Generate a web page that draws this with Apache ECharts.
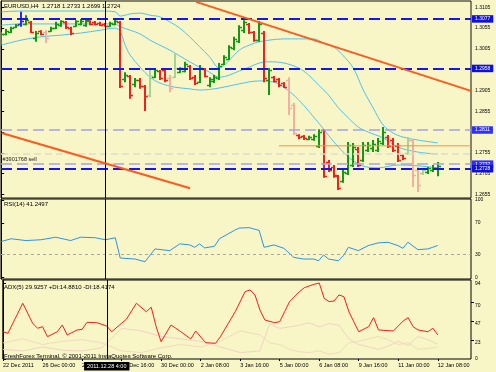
<!DOCTYPE html>
<html><head><meta charset="utf-8">
<script src="https://cdn.jsdelivr.net/npm/echarts@6/dist/echarts.min.js"></script>
<style>html,body{margin:0;padding:0;background:#f8f5c6}#c{width:496px;height:372px}</style>
</head><body><div id="c"></div><script>
// ---- price bars (EURUSD H4), bar index 0 = 22 Dec 2011 16:00 ----
const opens=[1.3019,1.3041,1.3046,1.3058,1.3065,1.3065,1.3070,1.3031,1.3048,1.3046,
1.3048,1.3055,1.3062,1.3070,1.3055,1.3060,1.3065,1.3062,1.3072,1.3070,
1.3067,1.3065,1.3060,1.3065,1.3070,1.2933,1.2940,1.2921,1.2930,1.2916,
1.2894,1.2937,1.2952,1.2954,1.2935,1.2937,1.2949,1.2952,1.2964,1.2937,
1.2925,1.2957,1.2918,1.2928,1.2935,1.2969,1.2981,1.3007,1.3024,1.3050,
1.3065,1.3046,1.3026,1.3043,1.2930,1.2937,1.2933,1.2923,1.2930,1.2870,
1.2798,1.2796,1.2788,1.2788,1.2772,1.2810,1.2733,1.2721,1.2699,1.2687,
1.2707,1.2726,1.2764,1.2738,1.2762,1.2767,1.2762,1.2779,1.2793,1.2786,
1.2772,1.2750,1.2755,1.2786,1.2714,1.2707,1.2709,1.2714,1.2718];
const highs=[1.3046,1.3053,1.3058,1.3065,1.3094,1.3086,1.3072,1.3048,1.3050,1.3050,
1.3058,1.3070,1.3074,1.3072,1.3058,1.3074,1.3077,1.3079,1.3074,1.3072,
1.3070,1.3067,1.3070,1.3077,1.3072,1.2949,1.2942,1.2935,1.2935,1.2918,
1.2957,1.2959,1.2954,1.2959,1.2942,1.2995,1.2961,1.2974,1.2966,1.2942,
1.2966,1.2959,1.2937,1.2942,1.2971,1.2990,1.3014,1.3034,1.3062,1.3074,
1.3067,1.3048,1.3072,1.3048,1.2959,1.2940,1.2935,1.2925,1.2937,1.2875,
1.2800,1.2798,1.2796,1.2800,1.2812,1.2812,1.2738,1.2726,1.2702,1.2714,
1.2781,1.2779,1.2769,1.2781,1.2781,1.2786,1.2791,1.2817,1.2798,1.2791,
1.2779,1.2752,1.2793,1.2788,1.2721,1.2719,1.2721,1.2726,1.2733];
const lows=[1.3014,1.3038,1.3043,1.3055,1.3058,1.3062,1.3043,1.3022,1.3038,1.3019,
1.3046,1.3053,1.3058,1.3053,1.3038,1.3058,1.3062,1.3058,1.3062,1.3062,
1.3060,1.3058,1.3058,1.3062,1.2911,1.2925,1.2885,1.2913,1.2909,1.2856,
1.2889,1.2935,1.2930,1.2925,1.2901,1.2935,1.2947,1.2949,1.2930,1.2918,
1.2923,1.2937,1.2913,1.2923,1.2930,1.2966,1.2978,1.3002,1.3019,1.3043,
1.3041,1.3022,1.3022,1.2925,1.2894,1.2925,1.2913,1.2911,1.2846,1.2798,
1.2788,1.2786,1.2786,1.2784,1.2767,1.2695,1.2709,1.2695,1.2666,1.2683,
1.2702,1.2721,1.2721,1.2733,1.2757,1.2757,1.2757,1.2774,1.2767,1.2757,
1.2733,1.2738,1.2750,1.2673,1.2661,1.2702,1.2704,1.2709,1.2699];
const closes=[1.3041,1.3048,1.3055,1.3062,1.3072,1.3074,1.3046,1.3043,1.3041,1.3031,
1.3055,1.3065,1.3072,1.3058,1.3043,1.3072,1.3072,1.3074,1.3065,1.3065,
1.3062,1.3060,1.3067,1.3072,1.2916,1.2942,1.2894,1.2930,1.2916,1.2892,
1.2940,1.2954,1.2935,1.2930,1.2911,1.2959,1.2959,1.2969,1.2935,1.2923,
1.2959,1.2940,1.2933,1.2937,1.2964,1.2986,1.3010,1.3029,1.3058,1.3070,
1.3046,1.3026,1.3065,1.2935,1.2954,1.2928,1.2918,1.2913,1.2863,1.2803,
1.2793,1.2791,1.2793,1.2796,1.2805,1.2699,1.2714,1.2702,1.2671,1.2709,
1.2774,1.2769,1.2726,1.2774,1.2774,1.2776,1.2784,1.2805,1.2772,1.2762,
1.2738,1.2743,1.2786,1.2702,1.2678,1.2714,1.2719,1.2719,1.2724];
const fadedBars=[9,30,34,35,58,59,82,83,84,85];
const markedBars=[4];

// ---- Bollinger bands (read at sample bars) ----
const bbUpperBars=[0,4,8,12,16,20,23,24,26,28,30,32,34,36,38,40,42,44,46,48,50,52,54,57,60,63,65,67,69,71,73,75,77,79,81,84,88];
const bbUpper=[1.3094,1.3096,1.3096,1.3096,1.3096,1.3096,1.3094,1.3084,1.3089,1.3091,1.3086,1.3082,1.3070,1.3055,1.3034,1.3010,1.2986,1.2959,1.2978,1.3002,1.3014,1.3022,1.3026,1.3029,1.3029,1.3029,1.3019,1.3010,1.2988,1.2959,1.2906,1.2863,1.2822,1.2803,1.2793,1.2786,1.2779];
const bbMidBars=[0,4,8,12,16,20,23,24,26,28,30,32,34,36,38,40,42,44,46,48,50,52,54,57,60,62,64,66,68,70,72,74,77,80,84,88];
const bbMid=[1.3062,1.3065,1.3065,1.3065,1.3065,1.3065,1.3065,1.3058,1.3050,1.3041,1.3026,1.3014,1.3002,1.2988,1.2974,1.2961,1.2949,1.2937,1.2942,1.2952,1.2961,1.2971,1.2974,1.2971,1.2959,1.2942,1.2918,1.2894,1.2863,1.2839,1.2817,1.2805,1.2791,1.2769,1.2757,1.2752];
const bbLowerBars=[0,4,8,12,16,20,23,24,25,26,28,30,32,35,38,40,44,48,52,55,57,60,64,68,72,76,80,84,88];
const bbLower=[1.3014,1.3026,1.3034,1.3038,1.3043,1.3050,1.3055,1.3046,1.3014,1.2990,1.2961,1.2937,1.2923,1.2913,1.2909,1.2906,1.2911,1.2921,1.2928,1.2925,1.2913,1.2882,1.2827,1.2769,1.2728,1.2719,1.2726,1.2724,1.2719];

// ---- trend lines and levels ----
const trendUpperX=[39.3,94.7], trendUpperY=[1.3118,1.2904];
const trendLowerX=[0.1,38.1], trendLowerY=[1.2803,1.2670];
const flatLineX=[56,94.7], flatLineY=[1.2772,1.2772];
const levelPrices=[1.3077,1.2958,1.2810,1.2752,1.2728,1.2717];
const levelLabels=['1.3077','1.2958','1.2811','','1.2737','1.2728'];
const levelKinds=['order','order','pending','bid','pending','order'];
const orderText='#3901768 sell', orderTextLevel=1.2728;
const cursorBar=21, cursorText='2011.12.28 4:00';

// ---- RSI(14) ----
const rsiBars=[0,2,5,8,11,14,16,19,21,23,24,27,29,31,34,36,38,39,40,41,43,44,47,48,50,52,53,55,57,59,61,63,64,65,66,68,69,70,72,74,76,78,80,81,82,84,86,87,88];
const rsiVals=[46.2,49.8,47.5,48.5,51.8,47.5,51.8,51.1,48.5,51.1,25.0,23.7,20.2,36.7,34.5,43.2,41.9,38.8,43.2,38.0,40.1,49.8,60.6,63.6,64.1,60.6,38.8,41.9,37.5,25.8,23.7,23.7,21.5,28.9,23.7,21.5,28.0,38.8,34.5,41.0,44.5,45.3,41.0,37.5,45.3,35.8,36.7,38.8,41.2];

// ---- ADX(5) ----
const adxBars=[0,1,4,6,7,8,9,11,12,13,15,16,17,19,21,22,24,25,27,29,30,31,32,34,36,38,39,41,43,44,47,49,50,51,52,53,55,56,57,58,60,61,63,64,65,66,67,68,69,70,72,74,75,76,79,81,82,83,84,86,87,88];
const adxVals=[33.9,32.0,69.3,44.4,38.2,40.2,27.7,33.9,42.3,29.8,36.1,36.9,45.6,45.1,41.0,33.9,44.4,49.7,69.3,58.8,64.3,40.2,21.5,42.3,33.9,24.9,34.8,20.3,19.5,27.7,58.8,83.7,85.8,79.6,60.9,48.5,45.1,46.4,58.8,71.3,83.7,88.7,92.9,94.5,75.5,71.3,72.1,79.6,77.5,58.8,33.9,40.2,51.4,36.1,34.8,47.3,51.4,40.2,36.1,33.9,38.2,29.9];
const diBars=[0,4,8,12,16,20,24,28,32,36,40,44,48,52,54,56,58,60,62,64,66,68,70,72,74,76,78,80,82,84,86,88];
const plusDI=[20,25,18,22,24,20,10,8,14,18,15,22,35,30,20,18,12,9,8,10,6,8,20,22,25,28,24,18,20,12,13,14.9];
const minusDI=[12,10,15,11,10,14,38,35,28,25,22,15,8,10,44,38,40,42,45,40,44,42,25,18,15,12,16,22,17,28,24,18.4];

// ---- axis ticks / labels ----
const priceTicks=[1.2655,1.2705,1.2755,1.2805,1.2855,1.2905,1.2955,1.3005,1.3055,1.3105];
const rsiTicks=[0,30,70,100];
const adxEdgeTicks=[0,94];
const adxMidTicks=[23,47,70];
const timeBars=[0,8,16,24,32,40,48,56,64,72,80,88];
const timeLabels=['22 Dec 2011','26 Dec 00:00','27 Dec 08:00','28 Dec 16:00','30 Dec 00:00','2 Jan 08:00','3 Jan 16:00','5 Jan 00:00','6 Jan 08:00','9 Jan 16:00','11 Jan 00:00','12 Jan 08:00'];
const headerText='EURUSD,H4  1.2718 1.2733 1.2699 1.2724';
const rsiText='RSI(14) 41.2497';
const adxText='ADX(5) 29.9257 +DI:14.8810 -DI:18.4174';
const footerText='FreshForex Terminal, \u00A9 2001-2011 InstaQuotes Software Corp.';

// ---------------------------------------------------------------
const FONT='Liberation Sans';
const pairs=(xs,ys)=>xs.map((x,k)=>[x,ys[k]]);
const barData=opens.map((o,i)=>[i,o,highs[i],lows[i],closes[i],markedBars.includes(i)?2:(fadedBars.includes(i)?1:0)]);
function barColor(o,c,k){
  if(k===2) return '#2a2aff';
  const up=c>=o;
  if(k===1) return up?'#a3d694':'#f3b09f';
  return up?'#129812':'#f2201a';
}
const xMin=-0.04,xMax=94.72;
const levelStyle={
  order:{color:'#1515f0',width:2,type:[11,5]},
  pending:{color:'#a3a3ee',width:1.5,type:[11,5]},
  bid:{color:'#dcdcd0',width:1.5,type:[7,4]}
};
const levelData=levelPrices.map((p,k)=>{
  const st=levelStyle[levelKinds[k]];
  const d={yAxis:p,lineStyle:{color:st.color,width:st.width,type:st.type},label:{show:false}};
  if(levelLabels[k]){
    d.label={show:true,position:'end',distance:1,formatter:levelLabels[k],color:'#fff',
      backgroundColor:levelKinds[k]==='pending'?'#2f2fff':'#1010d8',padding:[1.5,3,1,3],
      fontSize:5,fontFamily:FONT};
  }
  return d;
});
levelData.push({yAxis:orderTextLevel,lineStyle:{color:'rgba(0,0,0,0)',width:1,type:'solid'},
  label:{show:true,position:'insideStartTop',distance:1.5,formatter:orderText,color:'#222',fontSize:5.5,fontFamily:FONT}});
const cursorLine={xAxis:cursorBar,lineStyle:{color:'#000',width:1,type:'solid'},label:{show:false}};
const lab=(t,top)=>({text:t,left:4,top:top,padding:0,textStyle:{fontSize:6,fontWeight:'normal',color:'#000',fontFamily:FONT}});
const xAx=(g,show)=>({gridIndex:g,type:'value',min:xMin,max:xMax,
  axisLine:{show:false},splitLine:{show:false},
  axisTick:show?{show:true,length:2,customValues:timeBars,lineStyle:{color:'#000'}}:{show:false},
  axisLabel:show?{show:true,customValues:timeBars,align:'left',margin:3.5,fontSize:5.5,color:'#000',fontFamily:FONT,
    formatter:v=>{const k=timeBars.indexOf(Math.round(v));return k>=0?timeLabels[k]:'';}}:{show:false}});
const yLab={fontSize:5,color:'#000',fontFamily:FONT,margin:4};
const option={
  backgroundColor:'#f8f5c6',animation:false,
  title:[lab(headerText,3.5),lab(rsiText,201.5),lab(adxText,284),lab(footerText,353)],
  grid:[
    {left:1,right:25,top:1,height:197,show:true,borderColor:'#111',borderWidth:1,backgroundColor:'transparent'},
    {left:1,right:25,top:199,height:80,show:true,borderColor:'#000',borderWidth:1,backgroundColor:'transparent'},
    {left:1,right:25,top:280,height:79,show:true,borderColor:'#000',borderWidth:1,backgroundColor:'transparent'}
  ],
  xAxis:[xAx(0,false),xAx(1,false),xAx(2,true)],
  yAxis:[
    {gridIndex:0,type:'value',position:'right',min:1.26466,max:1.31201,splitLine:{show:false},
      axisLine:{show:true,lineStyle:{color:'#000'}},
      axisTick:{show:true,length:3,customValues:priceTicks,lineStyle:{color:'#000'}},
      axisLabel:Object.assign({customValues:priceTicks,formatter:v=>v.toFixed(4)},yLab)},
    {gridIndex:1,type:'value',position:'right',min:-2,max:101,splitLine:{show:false},
      axisLine:{show:true,lineStyle:{color:'#000'}},
      axisTick:{show:true,length:3,customValues:rsiTicks,lineStyle:{color:'#000'}},
      axisLabel:Object.assign({customValues:rsiTicks},yLab)},
    {gridIndex:2,type:'value',position:'right',min:0,max:98.2,splitLine:{show:false},
      axisLine:{show:true,lineStyle:{color:'#000'}},
      axisTick:{show:true,length:3,customValues:adxEdgeTicks,lineStyle:{color:'#000'}},
      axisLabel:Object.assign({customValues:adxEdgeTicks},yLab)},
    {gridIndex:2,type:'value',position:'right',min:0,max:98.2,splitLine:{show:false},
      axisLine:{show:false},
      axisTick:{show:true,length:3,customValues:adxMidTicks,lineStyle:{color:'#000'}},
      axisLabel:Object.assign({customValues:adxMidTicks,verticalAlign:'top'},yLab)}
  ],
  series:[
    {type:'custom',xAxisIndex:0,yAxisIndex:0,clip:true,data:barData,encode:{x:0,y:[1,2,3,4]},z:4,
      renderItem:function(params,api){
        const i=api.value(0),o=api.value(1),h=api.value(2),l=api.value(3),c=api.value(4),k=api.value(5);
        const pH=api.coord([i,h]),pL=api.coord([i,l]),pO=api.coord([i,o]),pC=api.coord([i,c]);
        const col=barColor(o,c,k);const x=Math.round(pH[0]);
        return {type:'group',children:[
          {type:'line',shape:{x1:x,y1:pH[1],x2:x,y2:pL[1]},style:{stroke:col,lineWidth:2}},
          {type:'line',shape:{x1:x-3,y1:Math.round(pO[1])+0.5,x2:x,y2:Math.round(pO[1])+0.5},style:{stroke:col,lineWidth:1.5}},
          {type:'line',shape:{x1:x,y1:Math.round(pC[1])+0.5,x2:x+3,y2:Math.round(pC[1])+0.5},style:{stroke:col,lineWidth:1.5}}
        ]};
      }},
    {type:'line',xAxisIndex:0,yAxisIndex:0,data:pairs(bbUpperBars,bbUpper),smooth:0.35,symbol:'none',z:3,
      lineStyle:{color:'#4ec3f0',width:1},
      markLine:{symbol:['none','none'],precision:4,silent:true,animation:false,data:levelData.concat([cursorLine])}},
    {type:'line',xAxisIndex:0,yAxisIndex:0,data:pairs(bbMidBars,bbMid),smooth:0.35,symbol:'none',z:3,lineStyle:{color:'#4ec3f0',width:1}},
    {type:'line',xAxisIndex:0,yAxisIndex:0,data:pairs(bbLowerBars,bbLower),smooth:0.35,symbol:'none',z:3,lineStyle:{color:'#4ec3f0',width:1}},
    {type:'line',xAxisIndex:0,yAxisIndex:0,data:pairs(trendUpperX,trendUpperY),symbol:'none',z:5,lineStyle:{color:'#ff5a1e',width:2}},
    {type:'line',xAxisIndex:0,yAxisIndex:0,data:pairs(trendLowerX,trendLowerY),symbol:'none',z:5,lineStyle:{color:'#ff5a1e',width:2}},
    {type:'line',xAxisIndex:0,yAxisIndex:0,data:pairs(flatLineX,flatLineY),symbol:'none',z:5,lineStyle:{color:'#ff8a4a',width:1}},
    {type:'line',xAxisIndex:1,yAxisIndex:1,data:pairs(rsiBars,rsiVals),symbol:'none',lineStyle:{color:'#2b93ee',width:1},
      markLine:{symbol:['none','none'],precision:4,silent:true,animation:false,data:[
        {yAxis:30,lineStyle:{color:'#a8a8a0',width:1,type:[3,3]},label:{show:false}},cursorLine]}},
    {type:'line',xAxisIndex:2,yAxisIndex:2,data:pairs(diBars,minusDI),symbol:'none',lineStyle:{color:'#f2d3c4',width:1}},
    {type:'line',xAxisIndex:2,yAxisIndex:2,data:pairs(diBars,plusDI),symbol:'none',lineStyle:{color:'#efdcc0',width:1}},
    {type:'line',xAxisIndex:2,yAxisIndex:2,data:pairs(adxBars,adxVals),symbol:'none',lineStyle:{color:'#ff1a1a',width:1},
      markLine:{symbol:['none','none'],precision:4,silent:true,animation:false,data:[
        {xAxis:cursorBar,lineStyle:{color:'#000',width:1,type:'solid'},
         label:{show:true,position:'start',distance:3,formatter:cursorText,color:'#fff',backgroundColor:'#000',
           padding:[1.5,3,1,3],fontSize:5.5,fontFamily:FONT}}]}}
  ]
};
const chart=echarts.init(document.getElementById('c'));
chart.setOption(option);
</script></body></html>
